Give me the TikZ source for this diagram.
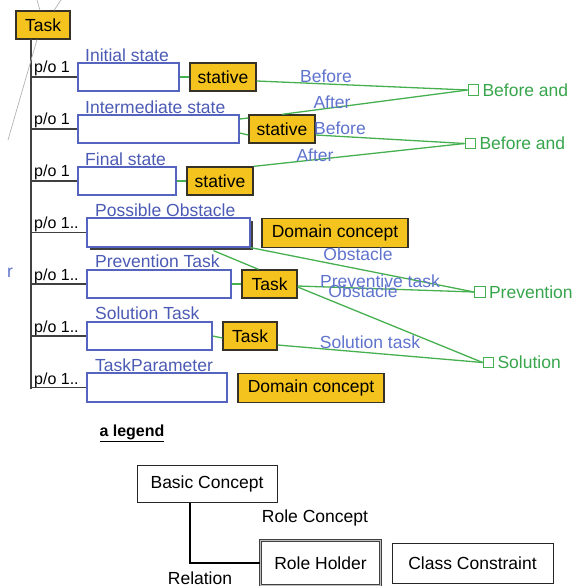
\documentclass[tikz,border=0pt]{standalone}
\usepackage{fontspec}
\setmainfont{Liberation Sans}
\usepackage{tikz}
\usetikzlibrary{calc}
\usetikzlibrary{shadows}

\definecolor{amarillo}{RGB}{245,195,30}
\definecolor{bordeoscuro}{RGB}{55,50,40}
\definecolor{azulcaja}{RGB}{85,100,190}
\definecolor{azultexto}{RGB}{75,90,180}
\definecolor{azularista}{RGB}{95,115,205}
\definecolor{verdelinea}{RGB}{70,175,80}
\definecolor{verdetexto}{RGB}{55,165,75}

\begin{document}
\begin{tikzpicture}[x=1pt, y=-1pt,
    every node/.style={font=\fontsize{17.5}{20}\selectfont, inner sep=0pt},
    concepto/.style={draw=azulcaja, line width=1.3pt, fill=white},
    clase/.style={draw=bordeoscuro, line width=1.3pt, fill=amarillo},
    rotulo/.style={text=azultexto, anchor=base west},
    po/.style={anchor=base west, font=\fontsize{16}{18}\selectfont},
    arista/.style={text=azularista},
    verde/.style={draw=verdelinea, line width=1.3pt},
    cuadro/.style={draw=verdelinea, line width=1.2pt, fill=white, minimum size=10.5},
    fin/.style={text=verdetexto, anchor=west},
    tronco/.style={draw=black!75, line width=1.2pt},
    gris/.style={draw=gray!60, line width=0.7pt},
    leyenda/.style={draw=black!85, line width=1pt, fill=white}]
    \useasboundingbox (0,0) rectangle (574,586);

    % Nodo principal y tronco
    \node[clase, minimum width=54, minimum height=28] (T) at (43,25) {Task};
    \coordinate (A) at (31,39);
    \coordinate (Z) at (31,389);
    \draw[tronco] (A) -- (Z);

    % Lineas grises
    \coordinate (G1) at (37,0);
    \coordinate (G2) at (61,0);
    \coordinate (G3) at (8,140);
    \draw[gris] (G1) -- ([xshift=-3pt]T.north);
    \draw[gris] (G2) -- ([xshift=11pt]T.north);
    \draw[gris] ([xshift=-6pt]T.south) -- (G3);

    % Partes
    \node[concepto, minimum width=101, minimum height=28] (R1) at (128.5,77) {};
    \node[concepto, minimum width=161, minimum height=28] (R2) at (158.5,129) {};
    \node[concepto, minimum width=98, minimum height=28] (R3) at (127,181) {};
    \node[concepto, minimum width=163, minimum height=29,
          drop shadow={shadow xshift=3pt, shadow yshift=-3pt, fill=black!75, opacity=1}] (R4) at (168.5,232.5) {};
    \node[concepto, minimum width=144, minimum height=28] (R5) at (159,284) {};
    \node[concepto, minimum width=125, minimum height=28] (R6) at (149.5,336) {};
    \node[concepto, minimum width=140, minimum height=29] (R7) at (157,387.5) {};

    \node[rotulo] (L1) at (85,61.5) {Initial state};
    \node[rotulo] (L2) at (85,113) {Intermediate state};
    \node[rotulo] (L3) at (85,165) {Final state};
    \node[rotulo] (L4) at (95,216) {Possible Obstacle};
    \node[rotulo] (L5) at (95,267.5) {Prevention Task};
    \node[rotulo] (L6) at (95,319.5) {Solution Task};
    \node[rotulo] (L7) at (95,371.5) {TaskParameter};

    \node[po] (P1) at (34,72.5) {p/o 1};
    \node[po] (P2) at (34,124.5) {p/o 1};
    \node[po] (P3) at (34,176.5) {p/o 1};
    \node[po] (P4) at (34,228.5) {p/o 1..};
    \node[po] (P5) at (34,280.5) {p/o 1..};
    \node[po] (P6) at (34,332.5) {p/o 1..};
    \node[po] (P7) at (34,384.5) {p/o 1..};

    \draw[tronco] (R1.west -| A) -- (R1.west);
    \draw[tronco] (R2.west -| A) -- (R2.west);
    \draw[tronco] (R3.west -| A) -- (R3.west);
    \draw[tronco] (R4.west -| A) -- (R4.west);
    \draw[tronco] (R5.west -| A) -- (R5.west);
    \draw[tronco] (R6.west -| A) -- (R6.west);
    \draw[tronco] (R7.west -| A) -- (R7.west);

    % Restricciones de clase
    \node[clase, minimum width=66, minimum height=28] (S1) at (223,77) {stative};
    \node[clase, minimum width=66, minimum height=28] (S2) at (282,129) {stative};
    \node[clase, minimum width=66, minimum height=28] (S3) at (220,181) {stative};
    \node[clase, minimum width=146, minimum height=29] (D4) at (335,233) {Domain concept};
    \node[clase, minimum width=55, minimum height=28] (T5) at (269.5,284) {Task};
    \node[clase, minimum width=54, minimum height=28] (T6) at (250,336) {Task};
    \node[clase, minimum width=146, minimum height=29] (D7) at (311,388) {Domain concept};

    % Nodos de la derecha
    \node[cuadro] (B1) at (473.5,90) {};
    \node[cuadro] (B2) at (470.5,143.5) {};
    \node[cuadro] (Pv) at (480,292) {};
    \node[cuadro] (So) at (488.5,362.5) {};
    \node[fin] (N1) at ([xshift=3pt]B1.east) {Before and};
    \node[fin] (N2) at ([xshift=3pt]B2.east) {Before and};
    \node[fin] (N3) at ([xshift=3pt]Pv.east) {Prevention};
    \node[fin] (N4) at ([xshift=3pt]So.east) {Solution};

    % Lineas verdes
    \draw[verde] (R1.east) -- (S1.west);
    \draw[verde] ([yshift=10pt]R2.east) -- ([yshift=11pt]S2.west);
    \draw[verde] ([yshift=-4pt]R2.east) -- ([yshift=-6pt]S2.west);
    \draw[verde] (R3.east) -- (S3.west);
    \draw[verde] (R5.east) -- (T5.west);
    \draw[verde] (R6.east) -- ([yshift=-2pt]T6.west);

    \draw[verde] ([yshift=-4pt]S1.east) -- (B1.west);
    \draw[verde] (S2.north) -- (B1.west);
    \draw[verde] ([yshift=-6pt]S2.east) -- (B2.west);
    \draw[verde] (S3.north east) -- (B2.west);
    \draw[verde] (R4.south east) -- (Pv.west);
    \draw[verde] ([xshift=45pt,yshift=-3pt]R4.south) -- ([xshift=-11pt]T5.north);
    \draw[verde] ([yshift=-2pt]T5.east) -- (Pv.west);
    \draw[verde] ([yshift=-3pt]T5.east) -- (So.west);
    \draw[verde] ([yshift=-9pt]T6.east) -- (So.west);

    % Etiquetas de las relaciones
    \node[arista] (E1) at (326,76) {Before};
    \node[arista] (E2) at (332,102) {After};
    \node[arista] (E3) at (340,128) {Before};
    \node[arista] (E4) at (315,155) {After};
    \node[arista] (E5) at (358,254) {Obstacle};
    \node[arista] (E6) at (380,281) {Preventive task};
    \node[arista] (E7) at (363,291) {Obstacle};
    \node[arista] (E8) at (370,342) {Solution task};
    \node[arista] (E9) at (10,273) {r};

    % Leyenda
    \node[font=\fontsize{16}{18}\selectfont\bfseries] (Ley) at (132,433) {\underline{a legend}};
    \node[leyenda, minimum width=140, minimum height=37] (BC) at (207,483.5) {Basic Concept};
    \node[leyenda, draw=black!75, line width=0.8pt, double=black!25, double distance=1.6pt,
          minimum width=120, minimum height=45] (RH) at (320.5,563) {Role Holder};
    \node[leyenda, minimum width=161, minimum height=40] (CC) at (472.5,563) {Class Constraint};
    \node (RC) at (315,518) {Role Concept};
    \node (Rel) at (200,578) {Relation};
    \draw[tronco, draw=black] ([xshift=-17pt]BC.south) |- (RH.west);
\end{tikzpicture}
\end{document}
